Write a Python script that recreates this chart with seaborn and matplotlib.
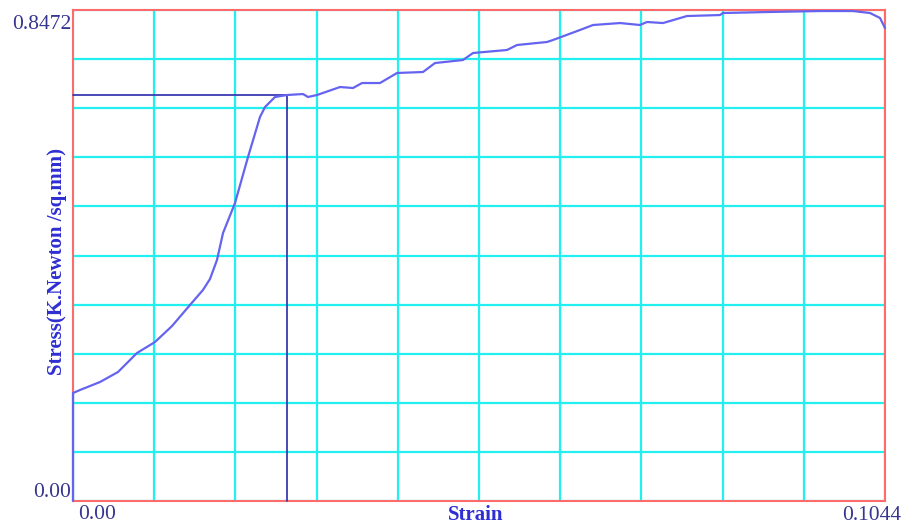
import matplotlib
matplotlib.use("Agg")
import matplotlib.pyplot as plt
import seaborn as sns
import numpy as np
import pandas as pd

# ---- data ----
strain = [0.0, 0.0, 0.00090, 0.00347, 0.00579, 0.00823, 0.01054, 0.01273, 0.01504,
          0.01671, 0.01761, 0.01851, 0.01929, 0.02083, 0.02250, 0.02404, 0.02469,
          0.02597, 0.02751, 0.02957, 0.03021, 0.03137, 0.03433, 0.03600, 0.03716,
          0.03947, 0.04166, 0.04500, 0.04654, 0.05014, 0.05143, 0.05580, 0.05709,
          0.06094, 0.06171, 0.06518, 0.06686, 0.07033, 0.07290, 0.07380, 0.07586,
          0.07894, 0.08318, 0.08357, 0.08923, 0.09604, 0.10029, 0.10247, 0.10376,
          0.10440]
stress = [0.0, 0.1863, 0.1915, 0.2053, 0.2226, 0.2554, 0.2743, 0.3019, 0.3382,
          0.3641, 0.3830, 0.4158, 0.4624, 0.5142, 0.5935, 0.6626, 0.6798,
          0.6971, 0.7005, 0.7022, 0.6971, 0.7005, 0.7143, 0.7126, 0.7212,
          0.7212, 0.7385, 0.7402, 0.7557, 0.7609, 0.7730, 0.7782, 0.7868,
          0.7920, 0.7954, 0.8127, 0.8213, 0.8247, 0.8213, 0.8265, 0.8247,
          0.8368, 0.8385, 0.8420, 0.8437, 0.8454, 0.8454, 0.8420, 0.8334,
          0.8161]

x_max = 0.1044
y_max = 0.8472
marker_strain = 0.02751
marker_stress = 0.7005
x_tick_labels = ["0.00", "0.1044"]
y_tick_labels = ["0.00", "0.8472"]
x_label = "Strain"
y_label = "Stress(K.Newton /sq.mm)"

sns.set_style("white")
plt.rcParams['font.family'] = ['Liberation Serif', 'DejaVu Serif']

fig = plt.figure(figsize=(9.03, 5.25), dpi=100)
ax = fig.add_axes([73 / 903, 24 / 525, 812 / 903, 491 / 525])

df = pd.DataFrame({"strain": strain, "stress": stress})

ax.set_xlim(0, x_max)
ax.set_ylim(0, y_max)

# grid (10 divisions each way)
ax.set_xticks(np.linspace(0, x_max, 11))
ax.set_yticks(np.linspace(0, y_max, 11))
ax.grid(True, color="#22f0f0", linewidth=1.6)
ax.set_axisbelow(True)
ax.tick_params(length=0, labelbottom=False, labelleft=False)

for s in ax.spines.values():
    s.set_color("#ff6a6a")
    s.set_linewidth(1.5)
    s.set_zorder(2)

# yield marker lines
ax.plot([0, marker_strain], [marker_stress, marker_stress], color="#3a3ab0", linewidth=1.3, zorder=3)
ax.plot([marker_strain, marker_strain], [0, marker_stress], color="#3a3ab0", linewidth=1.3, zorder=3)

sns.lineplot(data=df, x="strain", y="stress", sort=False, estimator=None,
             color="#6464f0", linewidth=1.6, ax=ax, zorder=4)
for ln in ax.lines:
    ln.set_clip_on(False)

ax.set_xlabel("")
ax.set_ylabel("")

lab_col = "#363690"
tr = ax.transAxes
# y tick labels
ax.annotate(y_tick_labels[1], xy=(0, 1), xycoords=tr, xytext=(-1.5, -10.5),
            textcoords="offset points", ha="right", va="center", fontsize=15.5, color=lab_col)
ax.annotate(y_tick_labels[0], xy=(0, 0), xycoords=tr, xytext=(-1.5, 6),
            textcoords="offset points", ha="right", va="center", fontsize=15.5, color=lab_col)
# x tick labels
ax.annotate(x_tick_labels[0], xy=(0, 0), xycoords=tr, xytext=(3.5, -10),
            textcoords="offset points", ha="left", va="center", fontsize=15.5, color=lab_col)
ax.annotate(x_tick_labels[1], xy=(1, 0), xycoords=tr, xytext=(12, -10.5),
            textcoords="offset points", ha="right", va="center", fontsize=15.5, color=lab_col)
# axis labels
ax.annotate(x_label, xy=(0.5, 0), xycoords=tr, xytext=(-2.5, -10),
            textcoords="offset points", ha="center", va="center", fontsize=15,
            fontweight="bold", color="#2e2ed2")
ax.annotate(y_label, xy=(0, 0.5), xycoords=tr, xytext=(-11.5, -4),
            textcoords="offset points", ha="center", va="center", fontsize=15,
            fontweight="bold", color="#2e2ed2", rotation=90)

fig.savefig("out.png", dpi=100)
